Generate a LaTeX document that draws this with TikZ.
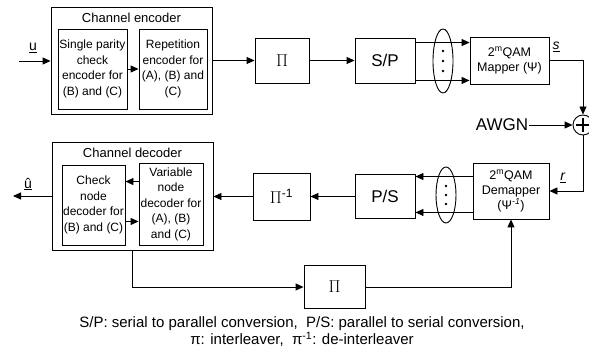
\documentclass[tikz,border=0pt]{standalone}
\usepackage{fontspec}
\setmainfont{Liberation Sans}
\usetikzlibrary{arrows.meta,shapes.geometric}

\tikzset{
  blk/.style={draw, line width=0.9pt, inner sep=0pt, align=center},
  sig/.style={line width=0.9pt, -{Triangle[length=8pt,width=7pt]}},
  grp/.style={draw, ellipse, line width=0.9pt, inner sep=0pt},
}

\begin{document}
\begin{tikzpicture}[x=1pt, y=-1pt, font=\fontsize{12}{15.5}\selectfont]
\useasboundingbox (0,0) rectangle (589,355);

% Channel encoder
\node[blk, minimum width=161pt, minimum height=107pt] (enc) at (131.5,60.5) {};
\node[font=\fontsize{13}{15}\selectfont] (enct) at (131.5,18) {Channel encoder};
\node[blk, minimum width=69pt, minimum height=80pt] (spc) at (92.5,69) {Single parity\\check\\encoder for\\(B) and (C)};
\node[blk, minimum width=68pt, minimum height=80pt] (rep) at (173,69) {Repetition\\encoder for\\(A), (B) and\\(C)};
\draw[sig] (spc) -- (rep);
\coordinate (uin) at (19,61);
\draw[sig] (uin) -- (uin -| enc.west);
\node[font=\fontsize{14}{15}\selectfont] (ulab) at (33,48) {\underline{u}};

% Transmitter
\node[blk, minimum width=54pt, minimum height=45pt, font=\fontsize{19}{20}\selectfont] (pi1) at (282,60.5) {$\Pi$};
\node[blk, minimum width=60pt, minimum height=45pt, font=\fontsize{17}{18}\selectfont] (sp) at (385,60.5) {S/P};
\node[blk, minimum width=79pt, minimum height=47pt, font=\fontsize{12.5}{15}\selectfont] (map) at (509.5,60.5) {2\textsuperscript{m}QAM\\Mapper (Ψ)};
\draw[sig] (enc) -- (pi1);
\draw[sig] (pi1) -- (sp);
\coordinate (s1) at ([yshift=-5pt]sp.north east);
\coordinate (s2) at ([yshift=3pt]sp.south east);
\draw[sig] (s1) -- (s1 -| map.west);
\draw[sig] (s2) -- (s2 -| map.west);
\node[grp, minimum width=20pt, minimum height=64pt] (grp1) at (443,61) {};
\foreach \yy in {51,61,71} \fill (443,\yy) circle (1.3pt);
\node[font=\fontsize{14}{15}\selectfont] (slab) at (556,47) {\underline{\textit{s}}};

% Channel
\node[circle, draw, line width=0.9pt, minimum size=20pt, inner sep=0pt] (add) at (583,125) {};
\draw[line width=1.6pt] ([yshift=7pt]add.center) -- ([yshift=-7pt]add.center)
  ([xshift=-7pt]add.center) -- ([xshift=7pt]add.center);
\node[font=\fontsize{17}{18}\selectfont, inner sep=1pt] (awgn) at (502,125) {AWGN};
\draw[sig] (map.east) -| (add.north);
\draw[sig] (awgn) -- (add);

% Receiver
\node[blk, minimum width=76pt, minimum height=56pt, font=\fontsize{12.5}{15}\selectfont] (dem) at (511,191) {2\textsuperscript{m}QAM\\Demapper\\(Ψ\textsuperscript{\textit{-1}})};
\draw[sig] (add.south) |- (dem.east);
\node[font=\fontsize{14}{15}\selectfont] (rlab) at (563,178) {\underline{\textit{r}}};
\node[blk, minimum width=60pt, minimum height=44pt, font=\fontsize{17}{18}\selectfont] (ps) at (385,196.5) {P/S};
\coordinate (d1) at ([yshift=-14pt]dem.north west);
\coordinate (d2) at ([yshift=7pt]dem.south west);
\draw[sig] (d1) -- (d1 -| ps.east);
\draw[sig] (d2) -- (d2 -| ps.east);
\node[grp, minimum width=20pt, minimum height=56pt] (grp2) at (446,195) {};
\foreach \yy in {186,195,204} \fill (446,\yy) circle (1.3pt);
\node[blk, minimum width=57pt, minimum height=47pt, font=\fontsize{19}{20}\selectfont] (pinv) at (281.5,196.5) {$\Pi$\textsuperscript{\fontsize{12}{12}\selectfont -1}};
\draw[sig] (ps) -- (pinv);

% Channel decoder
\node[blk, minimum width=161pt, minimum height=108pt] (dec) at (132.5,196) {};
\node[font=\fontsize{13}{15}\selectfont] (dect) at (132.5,153) {Channel decoder};
\node[blk, minimum width=63pt, minimum height=80pt] (cnd) at (93.5,205) {Check\\node\\decoder for\\(B) and (C)};
\node[blk, minimum width=64pt, minimum height=82pt] (vnd) at (171,204) {Variable\\node\\decoder for\\(A), (B)\\and (C)};
\coordinate (v1) at ([yshift=-19pt]vnd.north west);
\coordinate (c1) at ([yshift=24pt]cnd.south east);
\draw[sig] (v1) -- (v1 -| cnd.east);
\draw[sig] (c1) -- (c1 -| vnd.west);
\draw[sig] (pinv.west) -- (pinv.west -| dec.east);
\coordinate (uhat) at (13,196);
\draw[sig] (dec.west) -- (uhat);
\node[font=\fontsize{14}{15}\selectfont] (uhlab) at (28,184) {\underline{û}};

% Feedback
\node[blk, minimum width=61pt, minimum height=43pt, font=\fontsize{19}{20}\selectfont] (pi2) at (334.5,287) {$\Pi$};
\draw[sig] (dec.south) |- (pi2.west);
\draw[sig] (pi2.east) -| (dem.south);

% Legend
\node[align=center, font=\fontsize{15}{17}\selectfont] (cap) at (302,331.5) {S/P: serial to parallel conversion,\ \ P/S: parallel to serial conversion,\\π: interleaver,\ \ π\textsuperscript{-1}: de-interleaver};

\end{tikzpicture}
\end{document}
